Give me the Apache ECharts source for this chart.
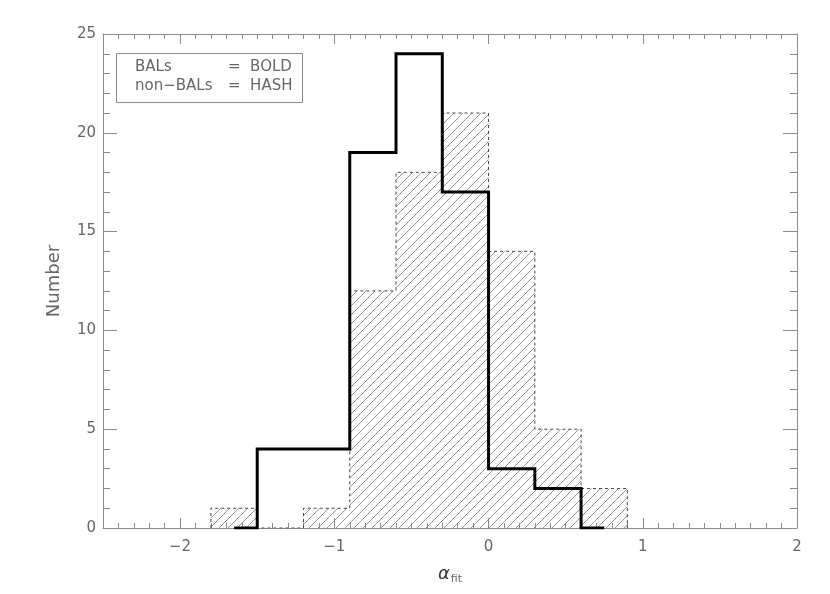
<!DOCTYPE html>
<html>
<head>
<meta charset="utf-8">
<script src="https://cdn.jsdelivr.net/npm/echarts@6/dist/echarts.min.js"></script>
<style>
  html, body { margin: 0; padding: 0; background: #fff; }
  #chart { width: 830px; height: 594px; }
</style>
</head>
<body>
<div id="chart"></div>
<script>
// bin edges (width 0.3) and counts per bin
const binEdges = [-1.8, -1.5, -1.2, -0.9, -0.6, -0.3, 0, 0.3, 0.6, 0.9];
const nonBalCounts = [1, 0, 1, 12, 18, 21, 14, 5, 2];
const balCounts = [0, 4, 4, 19, 24, 17, 3, 2, 0];
const xTickValues = [-2, -1, 0, 1, 2];

// step outline of a histogram; trim = drop empty end bins, keep half-bin stubs
function steps(edges, counts, trim) {
  let a = 0, b = counts.length - 1;
  const pts = [];
  if (trim) {
    while (counts[a] === 0) a++;
    while (counts[b] === 0) b--;
    const w = edges[a] - edges[a - 1];
    pts.push([edges[a] - w / 2, 0], [edges[a], 0]);
  } else {
    pts.push([edges[a], 0]);
  }
  for (let i = a; i <= b; i++) {
    pts.push([edges[i], counts[i]], [edges[i + 1], counts[i]]);
  }
  pts.push([edges[b + 1], 0]);
  if (trim) {
    const w = edges[b + 2] - edges[b + 1];
    pts.push([edges[b + 1] + w / 2, 0]);
  }
  return pts;
}

// diagonal hatch
const hatch = document.createElement('canvas');
hatch.width = 9; hatch.height = 9;
const hc = hatch.getContext('2d');
hc.strokeStyle = '#7a7a7a';
hc.lineWidth = 0.8;
hc.beginPath();
hc.moveTo(-1, 10); hc.lineTo(10, -1);
hc.moveTo(-1, 1); hc.lineTo(1, -1);
hc.moveTo(8, 10); hc.lineTo(10, 8);
hc.stroke();

const axisGray = '#8a8a8a';
const textGray = '#666';
const font = 'DejaVu Sans';

const chart = echarts.init(document.getElementById('chart'));

const majorX = (pos, labels) => ({
  type: 'value', position: pos, min: -2.5, max: 2,
  axisLine: { show: true, onZero: false, lineStyle: { color: axisGray, width: 1 } },
  axisTick: { show: true, inside: true, length: 10, customValues: xTickValues, lineStyle: { color: axisGray } },
  axisLabel: {
    show: labels, customValues: xTickValues, margin: 12,
    color: textGray, fontFamily: font, fontSize: 15,
    formatter: v => String(v).replace('-', '\u2212')
  },
  splitLine: { show: false }
});
const minorX = pos => ({
  type: 'value', position: pos, min: -2.5, max: 2, interval: 0.1,
  axisLine: { show: false, onZero: false },
  axisTick: { show: true, inside: true, length: 5, lineStyle: { color: axisGray } },
  axisLabel: { show: false },
  splitLine: { show: false }
});
const yAx = (pos, labels) => ({
  type: 'value', position: pos, min: 0, max: 25, interval: 5,
  axisLine: { show: true, onZero: false, lineStyle: { color: axisGray, width: 1 } },
  axisTick: { show: true, inside: true, length: 14, lineStyle: { color: axisGray } },
  minorTick: { show: true, splitNumber: 5, length: 7, lineStyle: { color: axisGray } },
  axisLabel: { show: labels, margin: 7, color: textGray, fontFamily: font, fontSize: 15 },
  splitLine: { show: false }
});

const xMain = majorX('bottom', true);
xMain.name = '{a|\u03b1}{s|fit}';
xMain.nameLocation = 'middle';
xMain.nameGap = 36;
xMain.nameTextStyle = {
  rich: {
    a: { fontFamily: font, fontSize: 18, color: '#333', fontStyle: 'italic' },
    s: { fontFamily: font, fontSize: 11, color: textGray, verticalAlign: 'bottom', padding: [10, 0, 0, 1] }
  }
};
const yMain = yAx('left', true);
yMain.name = 'Number';
yMain.nameLocation = 'middle';
yMain.nameGap = 40;
yMain.nameTextStyle = { fontFamily: font, fontSize: 18, color: textGray };

chart.setOption({
  backgroundColor: '#fff',
  animation: false,
  grid: { left: 103, top: 34, right: 33, bottom: 66 },
  xAxis: [xMain, minorX('bottom'), majorX('top', false), minorX('top')],
  yAxis: [yMain, yAx('right', false)],
  graphic: [
    { type: 'rect', left: 116, top: 53, shape: { width: 186, height: 49 },
      style: { fill: '#fff', stroke: axisGray, lineWidth: 1 }, z: 10 },
    { type: 'text', left: 135, top: 60, z: 11,
      style: { text: 'BALs', fill: textGray, font: '15px "DejaVu Sans"' } },
    { type: 'text', left: 228, top: 60, z: 11,
      style: { text: '=  BOLD', fill: textGray, font: '15px "DejaVu Sans"' } },
    { type: 'text', left: 135, top: 79, z: 11,
      style: { text: 'non\u2212BALs', fill: textGray, font: '15px "DejaVu Sans"' } },
    { type: 'text', left: 228, top: 79, z: 11,
      style: { text: '=  HASH', fill: textGray, font: '15px "DejaVu Sans"' } }
  ],
  series: [
    {
      name: 'non-BALs', type: 'line', xAxisIndex: 0, yAxisIndex: 0,
      data: steps(binEdges, nonBalCounts, false),
      showSymbol: false, z: 2,
      lineStyle: { color: '#444', width: 1, type: [3, 3] },
      areaStyle: { color: { image: hatch, repeat: 'repeat' }, opacity: 1 }
    },
    {
      name: 'BALs', type: 'line', xAxisIndex: 0, yAxisIndex: 0,
      data: steps(binEdges, balCounts, true),
      showSymbol: false, z: 3,
      lineStyle: { color: '#000', width: 3, join: 'miter' }
    }
  ]
});
</script>
</body>
</html>
